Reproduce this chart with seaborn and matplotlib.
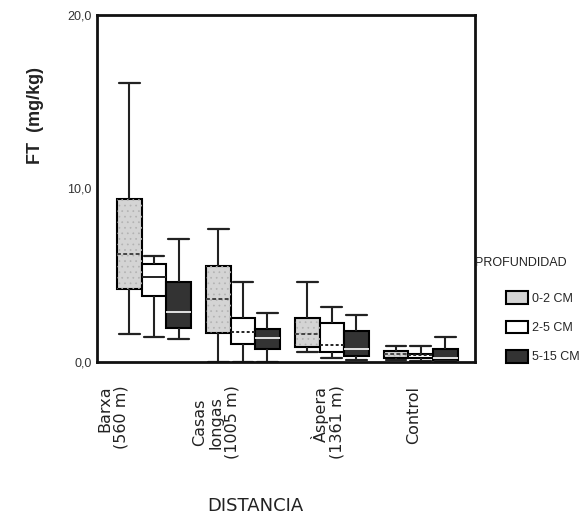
import numpy as np
import pandas as pd
import matplotlib
matplotlib.use("Agg")
import matplotlib.pyplot as plt
import matplotlib.transforms as mtrans
from matplotlib.patches import Patch, PathPatch
from matplotlib.ticker import FuncFormatter
import seaborn as sns

# ---------------- data ----------------
categories = ["Barxa\n(560 m)", "Casas\nlongas\n(1005 m)", "Àspera\n(1361 m)", "Control"]
depths = ["0-2 CM", "2-5 CM", "5-15 CM"]
# rows = categories, columns = depths (0-2, 2-5, 5-15)
whisker_low = [[1.63, 1.46, 1.31], [0.0, 0.0, 0.0], [0.60, 0.25, 0.10], [0.10, 0.05, 0.05]]
quartile_1 = [[4.22, 3.78, 1.98], [1.69, 1.02, 0.77], [0.86, 0.58, 0.35], [0.21, 0.21, 0.10]]
medians = [[6.25, 4.89, 2.90], [3.65, 1.73, 1.40], [1.63, 0.96, 0.73], [0.44, 0.38, 0.25]]
quartile_3 = [[9.42, 5.66, 4.59], [5.52, 2.55, 1.88], [2.55, 2.27, 1.78], [0.63, 0.48, 0.73]]
whisker_high = [[16.07, 6.12, 7.10], [7.67, 4.59, 2.80], [4.59, 3.19, 2.73], [0.92, 0.92, 1.46]]
y_ticks = [0, 10, 20]
depth_colors = ["#d4d4d4", "#ffffff", "#333333"]

rows = []
for i, cat in enumerate(categories):
    for j, dep in enumerate(depths):
        for v in (whisker_low[i][j], quartile_1[i][j], medians[i][j],
                  quartile_3[i][j], whisker_high[i][j]):
            rows.append({"DISTANCIA": cat, "PROFUNDIDAD": dep, "FT": v})
df = pd.DataFrame(rows)

# ---------------- figure ----------------
sns.set_theme(style="white")
plt.rcParams["font.family"] = ["DejaVu Sans"]
plt.rcParams["hatch.linewidth"] = 0.5

fig = plt.figure(figsize=(5.85, 5.21), dpi=100)
ax = fig.add_axes([97 / 585, 1 - 362 / 521, (475 - 97) / 585, (362 - 15) / 521])

sns.boxplot(data=df, x="DISTANCIA", y="FT", hue="PROFUNDIDAD",
            order=categories, hue_order=depths,
            palette=dict(zip(depths, depth_colors)), saturation=1,
            width=0.83, gap=0, whis=(0, 100), linecolor="black",
            linewidth=1.4, fliersize=0, legend=False, ax=ax)

# style each depth level
for k, cont in enumerate(ax.containers[:3]):
    for b in cont.boxes:
        b.set_edgecolor("black")
        b.set_linewidth(1.5)
        if k == 0:
            ov = PathPatch(b.get_path(), transform=b.get_transform(),
                           facecolor="none", edgecolor="#b2b2b2", lw=0,
                           hatch="...", zorder=b.get_zorder() + 0.01)
            ax.add_patch(ov)
    for idx, m in enumerate(cont.medians):
        m.set_zorder(5)
        m.set_linewidth(1.4)
        if k == 0:
            m.set_color("#444444")
            m.set_linestyle((0, (2, 1.2)))
        elif k == 1:
            m.set_color("#222222")
            if idx > 0:
                m.set_linestyle((0, (1.5, 1.2)))
        else:
            m.set_color("white")
            m.set_linewidth(1.2)
    for w in cont.whiskers:
        w.set_color("#222222")
        w.set_linewidth(1.5)
    for c in cont.caps:
        xd = np.asarray(c.get_xdata(), dtype=float)
        cx = xd.mean()
        half = 0.83 / 3 * 0.42
        c.set_xdata([cx - half, cx + half])
        c.set_color("#222222")
        c.set_linewidth(1.6)

ax.set_xlim(-0.64, 3.61)
ax.set_ylim(0, 20)
ax.set_yticks(y_ticks)
ax.yaxis.set_major_formatter(FuncFormatter(lambda v, p: f"{v:.1f}".replace(".", ",")))
ax.set_xlabel("")
ax.set_ylabel("")

for s in ax.spines.values():
    s.set_visible(True)
    s.set_linewidth(2)
    s.set_color("#111111")

ax.tick_params(axis="both", direction="out", length=3, width=2.5, color="#111111")
ax.tick_params(axis="y", labelsize=9, labelcolor="#333333", pad=1)
ax.tick_params(axis="x", labelsize=11.5, labelcolor="#222222", pad=14)
for lab in ax.get_yticklabels():
    lab.set_family("Liberation Sans")

x_offsets_px = [-41, -27, -4, -7]
multi = ["right", "center", "right", "right"]
for lab, dx, ma in zip(ax.get_xticklabels(), x_offsets_px, multi):
    lab.set_rotation(90)
    lab.set_ha("center")
    lab.set_va("top")
    lab.set_multialignment(ma)
    lab.set_linespacing(1.1)
    lab.set_transform(lab.get_transform() +
                      mtrans.ScaledTranslation(dx / 100, 0, fig.dpi_scale_trans))

fig.text(255 / 585, 1 - 506 / 521, "DISTANCIA", ha="center", va="center",
         fontsize=13, color="#222222")
fig.text(35 / 585, 1 - 115 / 521, "FT  (mg/kg)", rotation=90, ha="center",
         va="center", fontsize=13, fontweight="bold", color="#222222",
         family="Liberation Sans")

# legend
fig.text(475 / 585, 1 - 263 / 521, "PROFUNDIDAD", ha="left", va="center",
         fontsize=9, color="#222222", family="Liberation Sans")
handles = [Patch(facecolor=c, edgecolor="black", linewidth=1.5) for c in depth_colors]
fig.legend(handles, depths, loc="upper left", bbox_to_anchor=(500 / 585, 1 - 285 / 521),
           frameon=False, borderpad=0, handlelength=1.75, handleheight=1.2,
           handletextpad=0.3, labelspacing=1.25,
           prop={"family": "Liberation Sans", "size": 9})

fig.savefig("out.png", dpi=100)
